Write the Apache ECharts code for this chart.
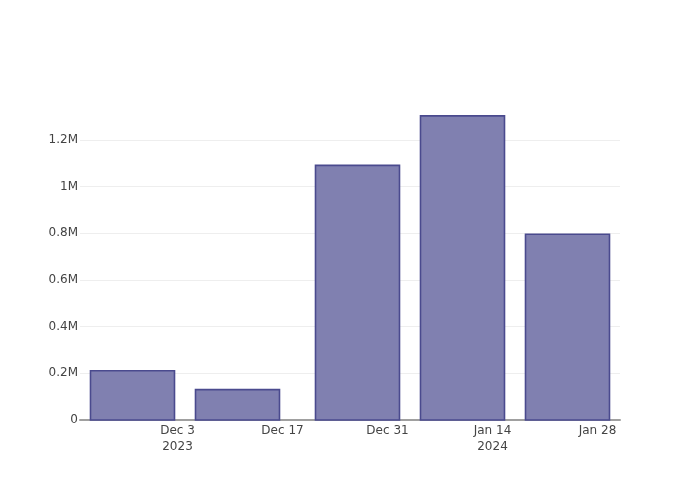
<!DOCTYPE html>
<html>
<head>
<meta charset="utf-8">
<script src="https://cdn.jsdelivr.net/npm/echarts@6/dist/echarts.min.js"></script>
<style>
  html, body { margin: 0; padding: 0; background: #fff; }
  #chart { width: 700px; height: 500px; }
</style>
</head>
<body>
<div id="chart"></div>
<script>
// ---- data ----
const barDates = ['2023-11-27', '2023-12-11', '2023-12-27', '2024-01-10', '2024-01-24'];
const barValues = [211000, 130000, 1091000, 1303000, 796000];
const tickDates = ['2023-12-03', '2023-12-17', '2023-12-31', '2024-01-14', '2024-01-28'];
const tickLabels = ['Dec 3\n2023', 'Dec 17', 'Dec 31', 'Jan 14\n2024', 'Jan 28'];
const xRangeDates = ['2023-11-20', '2024-01-31'];
const yTickLabels = ['0', '0.2M', '0.4M', '0.6M', '0.8M', '1M', '1.2M'];

// ---- helpers ----
const DAY = 86400000;
const ref = Date.parse(tickDates[0] + 'T00:00:00Z');
const toDay = s => Math.round((Date.parse(s + 'T00:00:00Z') - ref) / DAY);
const barX = barDates.map(toDay);
const tickX = tickDates.map(toDay);
const seriesData = barX.map((x, i) => [x, barValues[i]]);

const HALF_WIDTH_DAYS = 5.6;
const FONT = 'DejaVu Sans';
const TEXT = '#444';

const chart = echarts.init(document.getElementById('chart'), null, { renderer: 'canvas' });
chart.setOption({
  animation: false,
  backgroundColor: '#fff',
  grid: { left: 80, right: 80, top: 100, bottom: 80, containLabel: false },
  xAxis: {
    type: 'value',
    min: toDay(xRangeDates[0]),
    max: toDay(xRangeDates[1]),
    interval: 1,
    axisLine: { show: true, lineStyle: { color: '#a0a0a0', width: 2 } },
    axisTick: { show: false },
    splitLine: { show: false },
    axisLabel: {
      show: true,
      margin: 3,
      color: TEXT,
      fontFamily: FONT,
      fontSize: 12,
      lineHeight: 15.6,
      align: 'center',
      showMinLabel: true,
      showMaxLabel: true,
      formatter: v => {
        const i = tickX.indexOf(Math.round(v));
        return (i >= 0 && Math.abs(v - tickX[i]) < 1e-6) ? tickLabels[i] : '';
      }
    }
  },
  yAxis: {
    type: 'value',
    min: 0,
    max: 1371000,
    interval: 200000,
    axisLine: { show: false },
    axisTick: { show: false },
    splitLine: { show: true, showMinLine: false, showMaxLine: false, lineStyle: { color: '#eeeeee', width: 1 } },
    axisLabel: {
      margin: 2,
      color: TEXT,
      fontFamily: FONT,
      fontSize: 12,
      formatter: v => {
        const k = Math.round(v / 200000);
        return (Math.abs(v - k * 200000) < 1 && k < yTickLabels.length) ? yTickLabels[k] : '';
      }
    }
  },
  series: [{
    type: 'custom',
    data: seriesData,
    encode: { x: 0, y: 1 },
    renderItem: (params, api) => {
      const x = api.value(0), v = api.value(1);
      const p0 = api.coord([x - HALF_WIDTH_DAYS, v]);
      const p1 = api.coord([x + HALF_WIDTH_DAYS, 0]);
      return {
        type: 'rect',
        shape: { x: p0[0], y: p0[1], width: p1[0] - p0[0], height: p1[1] - p0[1] },
        style: { fill: 'rgb(128,128,176)', stroke: 'rgb(74,74,142)', lineWidth: 1.6 }
      };
    }
  }]
});
</script>
</body>
</html>
